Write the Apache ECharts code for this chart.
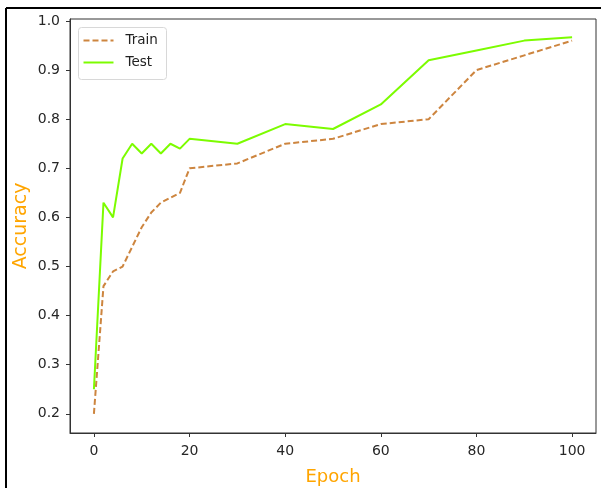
<!DOCTYPE html>
<html>
<head>
<meta charset="utf-8">
<script src="https://cdn.jsdelivr.net/npm/echarts@6/dist/echarts.min.js"></script>
<style>
html,body{margin:0;padding:0;background:#fff;}
#c{width:601px;height:488px;}
</style>
</head>
<body>
<div id="c"></div>
<script>
const epochs = [0, 2, 4, 6, 8, 10, 12, 14, 16, 18, 20, 30, 40, 50, 60, 70, 80, 90, 100];
const trainAcc = [0.20, 0.46, 0.49, 0.50, 0.54, 0.58, 0.61, 0.63, 0.64, 0.65, 0.70, 0.71, 0.75, 0.76, 0.79, 0.80, 0.90, 0.93, 0.96];
const testAcc = [0.25, 0.63, 0.60, 0.72, 0.75, 0.73, 0.75, 0.73, 0.75, 0.74, 0.76, 0.75, 0.79, 0.78, 0.83, 0.92, 0.94, 0.96, 0.967];
const xTicks = [0, 20, 40, 60, 80, 100];
const yTicks = [0.2, 0.3, 0.4, 0.5, 0.6, 0.7, 0.8, 0.9, 1.0];
const seriesNames = ['Train', 'Test'];
const seriesColors = ['#CD853F', '#7CFC00'];

const font = 'DejaVu Sans';
const chart = echarts.init(document.getElementById('c'), null, {renderer: 'canvas'});

function legendGraphic() {
  const items = [
    {type: 'rect', shape: {x: 0, y: 0, width: 88, height: 52, r: 3},
     style: {fill: '#fff', stroke: '#d8d8d8', lineWidth: 1}}
  ];
  seriesNames.forEach((n, i) => {
    const y = 13 + i * 22;
    items.push({type: 'line', shape: {x1: 5, y1: y, x2: 35, y2: y},
      style: {stroke: seriesColors[i], lineWidth: 2, lineDash: i === 0 ? [6, 3] : null}});
    items.push({type: 'text', x: 47, y: y,
      style: {text: n, fill: '#222', font: '13.5px "DejaVu Sans"', textVerticalAlign: 'middle', verticalAlign: 'middle'}});
  });
  return {type: 'group', left: 78, top: 27, children: items};
}

chart.setOption({
  backgroundColor: '#fff',
  animation: false,
  grid: {left: 70, right: 5, top: 19, bottom: 55, show: true, borderColor: '#333', borderWidth: 1,
    backgroundColor: 'transparent', containLabel: false, outerBoundsMode: 'none'},
  xAxis: {
    type: 'value', min: -5, max: 105,
    name: 'Epoch', nameLocation: 'middle', nameGap: 35,
    nameTextStyle: {fontFamily: font, fontSize: 18, color: '#FFA500'},
    splitLine: {show: false},
    axisLine: {show: true, onZero: false, lineStyle: {color: '#333', width: 1}},
    axisTick: {show: true, length: 4, inside: false, customValues: xTicks, lineStyle: {color: '#333'}},
    axisLabel: {customValues: xTicks, fontFamily: font, fontSize: 14, color: '#262626', margin: 11}
  },
  yAxis: {
    type: 'value', min: 0.161, max: 1.004,
    name: 'Accuracy', nameLocation: 'middle', nameGap: 39, nameRotate: 90, nameMoveOverlap: false,
    nameTextStyle: {fontFamily: font, fontSize: 19, color: '#FFA500'},
    splitLine: {show: false},
    axisLine: {show: true, onZero: false, lineStyle: {color: '#333', width: 1}},
    axisTick: {show: true, length: 4, inside: false, customValues: yTicks, lineStyle: {color: '#333'}},
    axisLabel: {customValues: yTicks, fontFamily: font, fontSize: 14, color: '#262626', margin: 10,
      formatter: v => v.toFixed(1)}
  },
  series: [
    {name: seriesNames[0], type: 'line', symbol: 'none', showSymbol: false,
     data: epochs.map((e, i) => [e, trainAcc[i]]),
     itemStyle: {color: seriesColors[0]},
     lineStyle: {color: seriesColors[0], width: 2, type: [6, 3]}},
    {name: seriesNames[1], type: 'line', symbol: 'none', showSymbol: false,
     data: epochs.map((e, i) => [e, testAcc[i]]),
     itemStyle: {color: seriesColors[1]},
     lineStyle: {color: seriesColors[1], width: 2}}
  ],
  graphic: [
    {type: 'line', shape: {x1: 6, y1: 8, x2: 601, y2: 8}, style: {stroke: '#000', lineWidth: 2}},
    {type: 'line', shape: {x1: 6, y1: 8, x2: 6, y2: 488}, style: {stroke: '#000', lineWidth: 2}},
    legendGraphic()
  ]
});
</script>
</body>
</html>
